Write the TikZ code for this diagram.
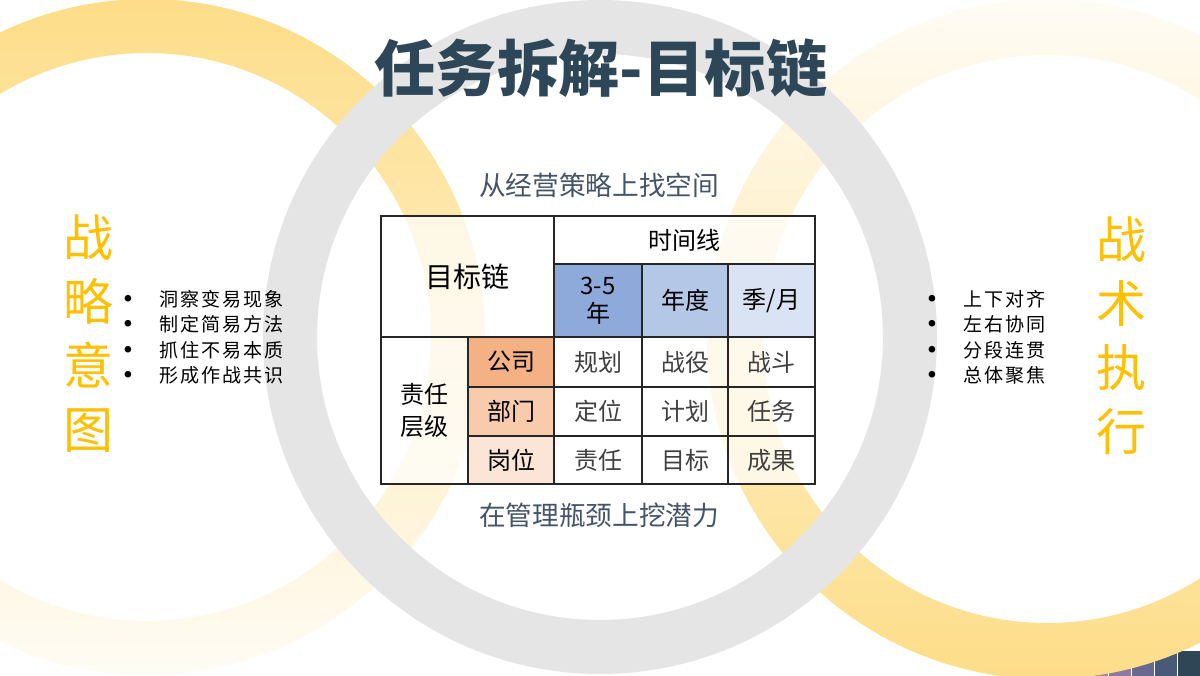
\documentclass[tikz,border=0pt]{standalone}
\usepackage{fontspec}
\setmainfont{Noto Sans CJK SC}
\newfontfamily\cjk{Noto Sans CJK SC}
\definecolor{ringgray}{HTML}{E5E5E5}
\definecolor{ringyel}{HTML}{FDDD88}
\definecolor{ringyelmid}{HTML}{FEE4A2}
\definecolor{yelfaint}{HTML}{FFFCF5}
\definecolor{yelfaintmid}{HTML}{FEF2D3}
\definecolor{titlec}{HTML}{2E4758}
\definecolor{subc}{HTML}{44546A}
\definecolor{accent}{HTML}{FFC000}
\definecolor{blueA}{HTML}{8EAADB}
\definecolor{blueB}{HTML}{B4C7E7}
\definecolor{blueC}{HTML}{DAE3F3}
\definecolor{orA}{HTML}{F4B183}
\definecolor{orB}{HTML}{F8CBAD}
\definecolor{orC}{HTML}{FBE5D6}
\definecolor{bodytext}{HTML}{404040}
\definecolor{gridc}{HTML}{262626}
\definecolor{sqA}{HTML}{2F4657}
\definecolor{sqB}{HTML}{485A77}
\definecolor{sqC}{HTML}{686890}
\definecolor{sqD}{HTML}{8B79A3}
\definecolor{sqE}{HTML}{A585B0}
\definecolor{sqF}{HTML}{BC92B8}
\definecolor{sqG}{HTML}{CC9EBE}
\tikzset{
  cellbase/.style={draw=gridc, line width=1pt, inner sep=0pt, align=center, text=black,
    font=\cjk\fontsize{18}{24}\selectfont},
  wcell/.style={cellbase, fill=white, fill opacity=0.7, text opacity=1},
  bodycell/.style={wcell, text=bodytext},
  sz/.style 2 args={minimum width={#1*0.75pt}, minimum height={#2*0.75pt}},
  subtitle/.style={inner sep=0pt, text=subc, font=\cjk\fontsize{20}{24}\selectfont},
  vertical/.style={inner sep=0pt, align=center, text=accent, font=\cjk\fontsize{37.5}{48}\selectfont},
  bulletdot/.style={inner sep=0pt, text=black, font=\cjk\fontsize{5.5}{6}\selectfont},
  bullettext/.style={inner sep=0pt, anchor=west, text=black, font=\cjk\fontsize{14.3}{16}\selectfont\addfontfeature{LetterSpace=10}},
}
\begin{document}
\begin{tikzpicture}[x=0.75pt,y=-0.75pt]
\useasboundingbox (0,0) rectangle (1200,675);
\clip (0,0) rectangle (1200,675);
\fill[white] (0,0) rectangle (1200,675);
% corner squares
\foreach \i/\c in {0/sqA,1/sqB,2/sqC,3/sqD,4/sqE,5/sqF,6/sqG}
  \fill[\c] ({1178-\i*22.9},651) rectangle ++(22,26);
% yellow rings
\shade[even odd rule, top color=ringyel, middle color=ringyelmid, bottom color=yelfaint]
  (147,337) circle[radius=338] (147,337) circle[radius=284];
\shade[even odd rule, top color=yelfaint, middle color=yelfaintmid, bottom color=ringyel]
  (1047,339) circle[radius=340] (1047,339) circle[radius=284];
% gray ring
\fill[ringgray, even odd rule] (600,337) circle[radius=337] (600,337) circle[radius=283];
% title
\node[inner sep=0pt, text=titlec, font=\cjk\bfseries\fontsize{46}{52}\selectfont] (title) at (601,68) {任务拆解-目标链};
% subtitles
\node[subtitle] (subtop) at (599,185) {从经营策略上找空间};
\node[subtitle] (subbot) at (599,515) {在管理瓶颈上挖潜力};
% table
\node[wcell, sz={173}{121}, font=\cjk\fontsize{21}{26}\selectfont] (goal) at (467.5,276.5) {目标链};
\node[wcell, sz={261}{48}] (timeline) at (684.5,240) {时间线};
\node[cellbase, fill=blueA, sz={88}{73}, font=\cjk\fontsize{18}{21}\selectfont] (h35) at (598,300.5) {3-5\\年};
\node[cellbase, fill=blueB, sz={86}{73}] (hyear) at (685,300.5) {年度};
\node[cellbase, fill=blueC, sz={87}{73}] (hseason) at (771.5,300.5) {季/月};
\node[wcell, sz={87}{147}] (resp) at (424.5,410.5) {责任\\层级};
\node[cellbase, fill=orA, sz={86}{50}] (company) at (511,362) {公司};
\node[cellbase, fill=orB, sz={86}{49}] (dept) at (511,411.5) {部门};
\node[cellbase, fill=orC, sz={86}{48}] (post) at (511,460) {岗位};
\node[bodycell, sz={88}{50}] (c11) at (598,362) {规划};
\node[bodycell, sz={86}{50}] (c12) at (685,362) {战役};
\node[bodycell, sz={87}{50}] (c13) at (771.5,362) {战斗};
\node[bodycell, sz={88}{49}] (c21) at (598,411.5) {定位};
\node[bodycell, sz={86}{49}] (c22) at (685,411.5) {计划};
\node[bodycell, sz={87}{49}] (c23) at (771.5,411.5) {任务};
\node[bodycell, sz={88}{48}] (c31) at (598,460) {责任};
\node[bodycell, sz={86}{48}] (c32) at (685,460) {目标};
\node[bodycell, sz={87}{48}] (c33) at (771.5,460) {成果};
% vertical labels
\node[vertical] (strategy) at (88,334) {战\\略\\意\\图};
\node[vertical] (tactics) at (1121,336) {战\\术\\执\\行};
% left bullets
\node[bulletdot] (lb1) at (128,299) {●};
\node[bulletdot] (lb2) at (128,324) {●};
\node[bulletdot] (lb3) at (128,350) {●};
\node[bulletdot] (lb4) at (128,375) {●};
\node[bullettext] (lt1) at (159,299) {洞察变易现象};
\node[bullettext] (lt2) at (159,324) {制定简易方法};
\node[bullettext] (lt3) at (159,350) {抓住不易本质};
\node[bullettext] (lt4) at (159,375) {形成作战共识};
% right bullets
\node[bulletdot] (rb1) at (932,299) {●};
\node[bulletdot] (rb2) at (932,324) {●};
\node[bulletdot] (rb3) at (932,350) {●};
\node[bulletdot] (rb4) at (932,375) {●};
\node[bullettext] (rt1) at (963,299) {上下对齐};
\node[bullettext] (rt2) at (963,324) {左右协同};
\node[bullettext] (rt3) at (963,350) {分段连贯};
\node[bullettext] (rt4) at (963,375) {总体聚焦};
\end{tikzpicture}
\end{document}
